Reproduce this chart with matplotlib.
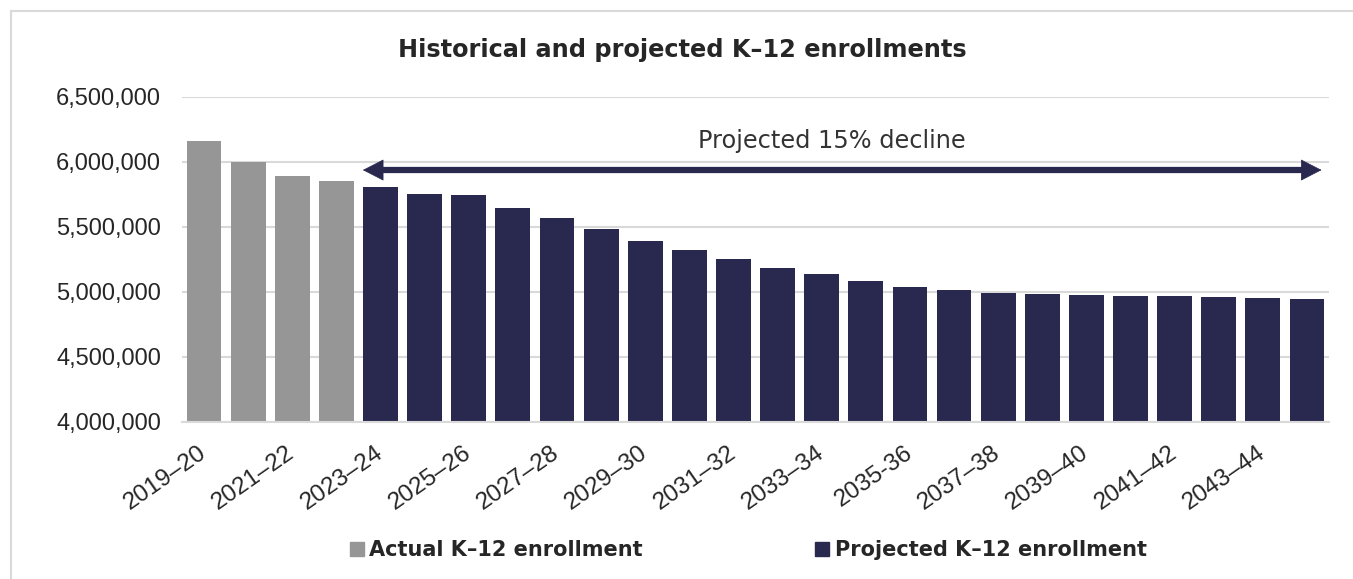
import matplotlib
matplotlib.use('Agg')
import matplotlib.pyplot as plt
from matplotlib.patches import Patch, Rectangle
from matplotlib.ticker import FuncFormatter

# school years shown on the x axis (one bar each)
years = ['2019–20', '2020–21', '2021–22', '2022–23', '2023–24', '2024–25',
         '2025–26', '2026–27', '2027–28', '2028–29', '2029–30', '2030–31',
         '2031–32', '2032–33', '2033–34', '2034–35', '2035-36', '2036–37',
         '2037–38', '2038–39', '2039–40', '2040–41', '2041–42', '2042–43',
         '2043–44', '2044–45']

actual = [6159000, 6000000, 5890000, 5852000]
projected = [5808000, 5757000, 5744000, 5649000, 5567000, 5482000, 5395000,
             5321000, 5251000, 5188000, 5139000, 5082000, 5039000, 5013000,
             4990000, 4985000, 4980000, 4969000, 4969000, 4965000, 4954000,
             4944000]

gray = '#969696'
navy = '#29284f'
txt = '#262626'
grid = '#d9d9d9'

plt.rcParams['font.family'] = ['Liberation Sans', 'DejaVu Sans']

fig = plt.figure(figsize=(13.53, 5.79), dpi=100)
ax = fig.add_axes([0.1345, 0.2712, 0.8478, 0.5613])

x_act = list(range(len(actual)))
x_proj = list(range(len(actual), len(actual) + len(projected)))
ax.bar(x_act, actual, width=0.79, color=gray, zorder=2)
ax.bar(x_proj, projected, width=0.79, color=navy, zorder=2)

ax.set_ylim(4000000, 6500000)
ax.set_xlim(-0.5, len(years) - 0.5)
ax.set_yticks(range(4000000, 6500001, 500000))
ax.yaxis.set_major_formatter(FuncFormatter(lambda v, p: f'{int(v):,}'))
ax.grid(axis='y', color=grid, lw=1.5, zorder=0)
ax.tick_params(axis='y', length=0, pad=15, labelsize=17, labelcolor=txt)

ticks = list(range(0, len(years), 2))
ax.set_xticks(ticks)
ax.set_xticklabels([years[i] for i in ticks], rotation=35, ha='right',
                   rotation_mode='anchor', va='center')
ax.tick_params(axis='x', length=0, pad=21, labelsize=17.5, labelcolor=txt)

for s in ['top', 'right', 'left']:
    ax.spines[s].set_visible(False)
ax.spines['bottom'].set_color(grid)
ax.spines['bottom'].set_linewidth(1.5)
ax.spines['bottom'].set_zorder(3)

# projection arrow: shaft + two triangular heads
y_arr = 5938000
x0, x1 = 3.6, 25.33
ax.plot([x0 + 0.3, x1 - 0.3], [y_arr, y_arr], color=navy, lw=4.5,
        solid_capstyle='butt', zorder=4)
for a, b in [(x0 + 0.5, x0), (x1 - 0.5, x1)]:
    ax.annotate('', xy=(b, y_arr), xytext=(a, y_arr),
                arrowprops=dict(arrowstyle='-|>,head_length=0.7,head_width=0.36',
                                color=navy, lw=0.5, shrinkA=0, shrinkB=0,
                                mutation_scale=20), zorder=4)
ax.text(14.24, 6162000, 'Projected 15% decline', ha='center', va='center',
        fontsize=17.3, color='#333333', family='DejaVu Sans')

fig.text(0.504, 0.914, 'Historical and projected K–12 enrollments',
         ha='center', va='center', fontsize=17.3, color=txt,
         family='DejaVu Sans', weight='bold')

handles = [Patch(color=gray, label='Actual K–12 enrollment'),
           Patch(color=navy, label='Projected K–12 enrollment')]
fig.legend(handles=handles, loc='center', bbox_to_anchor=(0.553, 0.05), ncol=2,
           frameon=False, columnspacing=8.3, handlelength=0.67,
           handleheight=0.67, handletextpad=0.25,
           prop={'family': 'DejaVu Sans', 'size': 15, 'weight': 'bold'},
           labelcolor=txt)

# outer frame
fig.patches.append(Rectangle((11 / 1353, -0.1), 1.2, 1.1 - 11 / 579,
                             transform=fig.transFigure, fill=False,
                             edgecolor=grid, lw=1.5))

fig.savefig('out.png', dpi=100)
